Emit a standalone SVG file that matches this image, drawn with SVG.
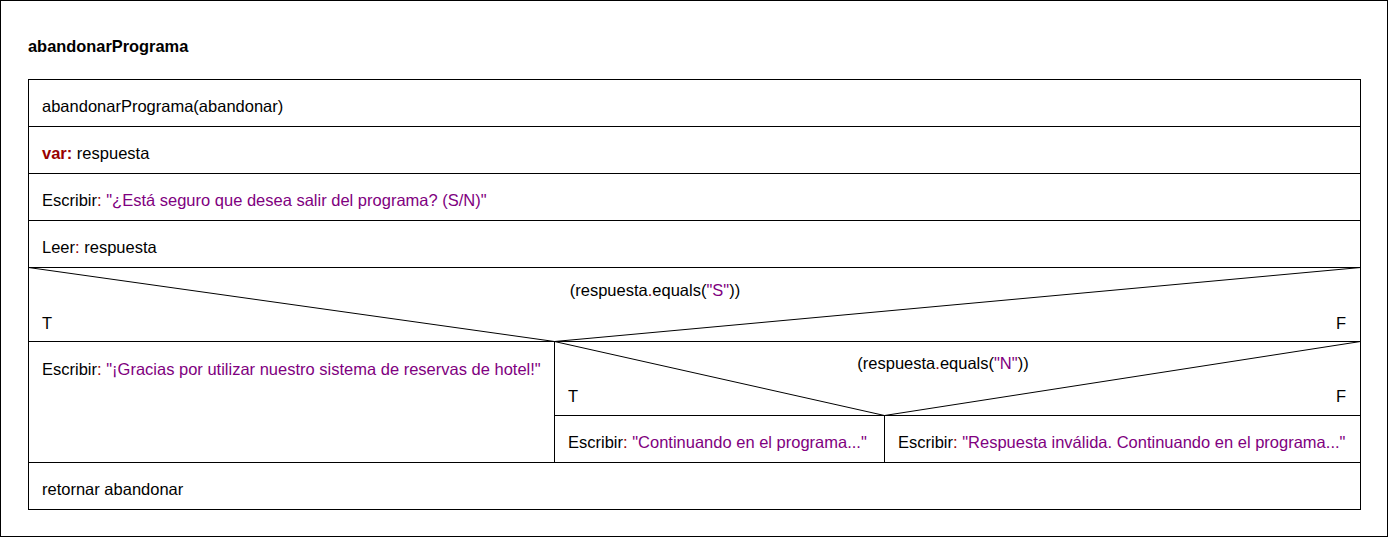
<svg xmlns="http://www.w3.org/2000/svg" width="1389" height="538" viewBox="0 0 1389 538">
<style>
text{font-family:"Liberation Sans",Arial,sans-serif;font-size:16.5px;fill:#000}
.t{font-weight:bold;font-size:16.4px}
.s{fill:#800080}
.k{fill:#990000}
.kb{fill:#990000;font-weight:bold}
.ln{stroke:#000;stroke-width:1;fill:none}
</style>
<rect x="0.5" y="0.5" width="1387" height="536" fill="#fff" stroke="#000"/>
<text class="t" x="28" y="52">abandonarPrograma</text>
<g id="connectors">
<rect class="ln" x="28.5" y="79.5" width="1332" height="430"/>
<line class="ln" x1="28" y1="126.5" x2="1361" y2="126.5"/>
<line class="ln" x1="28" y1="173.5" x2="1361" y2="173.5"/>
<line class="ln" x1="28" y1="220.5" x2="1361" y2="220.5"/>
<line class="ln" x1="28" y1="267.5" x2="1361" y2="267.5"/>
<line class="ln" x1="28" y1="341.5" x2="1361" y2="341.5"/>
<line class="ln" x1="28" y1="462.5" x2="1361" y2="462.5"/>
<polyline class="ln" points="28.5,267.5 554.5,341.5 1360.5,267.5"/>
<line class="ln" x1="554.5" y1="341" x2="554.5" y2="462"/>
<polyline class="ln" points="554.5,341.5 884.5,415.5 1360.5,341.5"/>
<line class="ln" x1="554" y1="415.5" x2="1361" y2="415.5"/>
<line class="ln" x1="884.5" y1="415" x2="884.5" y2="462"/>
</g>
<g id="header"><text x="42" y="112">abandonarPrograma(abandonar)</text></g>
<g id="var"><text x="42" y="159"><tspan class="kb">var:</tspan> respuesta</text></g>
<g id="escribir1"><text x="42" y="206">Escribir<tspan class="k">:</tspan> <tspan class="s">"¿Está seguro que desea salir del programa? (S/N)"</tspan></text></g>
<g id="leer"><text x="42" y="253">Leer<tspan class="k">:</tspan> respuesta</text></g>
<g id="cond1">
<text x="655" y="296" text-anchor="middle">(respuesta<tspan class="k">.</tspan>equals(<tspan class="s">"S"</tspan>))</text>
<text x="42" y="329">T</text>
<text x="1346" y="329" text-anchor="end">F</text>
</g>
<g id="escribir2"><text x="42" y="375">Escribir<tspan class="k">:</tspan> <tspan class="s">"¡Gracias por utilizar nuestro sistema de reservas de hotel!"</tspan></text></g>
<g id="cond2">
<text x="943" y="369" text-anchor="middle">(respuesta<tspan class="k">.</tspan>equals(<tspan class="s">"N"</tspan>))</text>
<text x="568" y="402">T</text>
<text x="1346" y="402" text-anchor="end">F</text>
</g>
<g id="escribir3"><text x="568" y="448">Escribir<tspan class="k">:</tspan> <tspan class="s">"Continuando en el programa..."</tspan></text></g>
<g id="escribir4"><text x="898" y="448">Escribir<tspan class="k">:</tspan> <tspan class="s">"Respuesta inválida. Continuando en el programa..."</tspan></text></g>
<g id="retornar"><text x="42" y="495">retornar abandonar</text></g>
</svg>
